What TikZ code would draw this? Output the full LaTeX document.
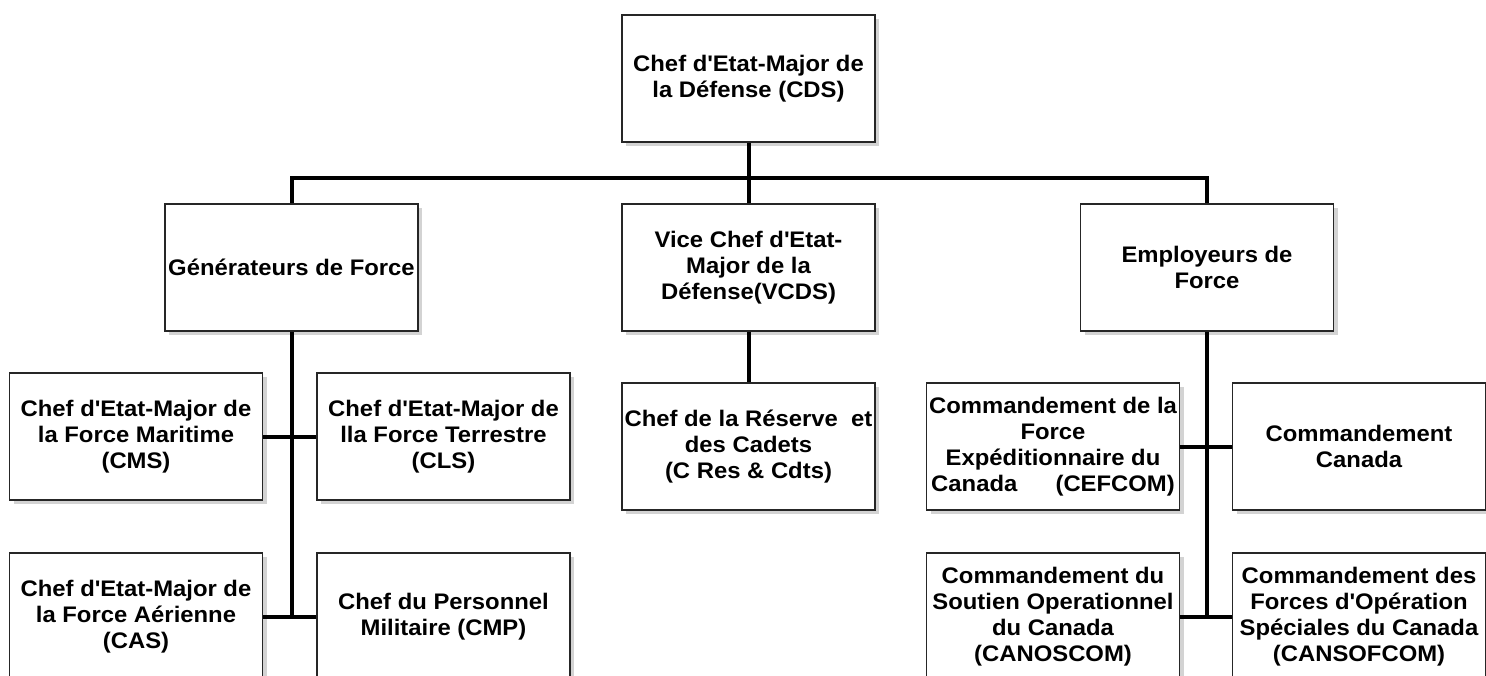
\documentclass[tikz,border=0pt]{standalone}
\usepackage{fontspec}
\setmainfont{Liberation Sans}[FakeStretch=1.06]
\usetikzlibrary{shadows}
\newcommand{\apos}{\textquotesingle}
\begin{document}
\begin{tikzpicture}[x=0.5pt, y=-0.5pt,
		orgbox/.style={draw=black!85, line width=0.75pt, fill=white, minimum width=126.5pt, minimum height=63.5pt,
			inner sep=1pt, align=center, font=\bfseries\fontsize{11.25}{13}\selectfont,
			drop shadow={shadow xshift=2pt, shadow yshift=-2pt, opacity=0.35}},
		link/.style={line width=2pt, black}]
		\useasboundingbox (0, 0) rectangle (1486, 675);
		\clip (0, 0) rectangle (1486, 675);
		\node[orgbox] (cds) at (748.5, 78.5) {Chef d\apos Etat-Major de\\la Défense (CDS)};
		\node[orgbox] (gen) at (291.5, 267.5) {Générateurs de Force};
		\node[orgbox] (vcds) at (748.5, 267.5) {Vice Chef d\apos Etat-\\Major de la\\Défense(VCDS)};
		\node[orgbox] (emp) at (1207, 267.5) {Employeurs de\\Force};
		\node[orgbox] (cms) at (136, 436.5) {Chef d\apos Etat-Major de\\la Force Maritime\\(CMS)};
		\node[orgbox] (cls) at (443.5, 436.5) {Chef d\apos Etat-Major de\\lla Force Terrestre\\(CLS)};
		\node[orgbox] (cas) at (136, 616.5) {Chef d\apos Etat-Major de\\la Force Aérienne\\(CAS)};
		\node[orgbox] (cmp) at (443.5, 616.5) {Chef du Personnel\\Militaire (CMP)};
		\node[orgbox] (res) at (748.5, 446.5) {Chef de la Réserve\ \ et\\des Cadets\\(C Res \& Cdts)};
		\node[orgbox] (cef) at (1053, 446.5) {Commandement de la\\Force\\Expéditionnaire du\\Canada\hspace{1.7em}(CEFCOM)};
		\node[orgbox] (cmdca) at (1359, 446.5) {Commandement\\Canada};
		\node[orgbox] (canos) at (1053, 616.5) {Commandement du\\Soutien Operationnel\\du Canada\\(CANOSCOM)};
		\node[orgbox] (cansof) at (1359, 616.5) {Commandement des\\Forces d\apos Opération\\Spéciales du Canada\\(CANSOFCOM)};
		% bus below the CDS
		\coordinate (bus) at (748.5, 178);
		\draw[link] (cds.south) -- (vcds.north);
		\draw[link] (gen.north) |- (bus) -| (emp.north);
		\draw[link] (vcds.south) -- (res.north);
		% generators
		\draw[link] (gen.south) |- (cas.east);
		\draw[link] (cms.east) -- (cls.west);
		\draw[link] (cas.east) -- (cmp.west);
		% employers
		\draw[link] (emp.south) |- (canos.east);
		\draw[link] (cef.east) -- (cmdca.west);
		\draw[link] (canos.east) -- (cansof.west);
	\end{tikzpicture}
\end{document}
